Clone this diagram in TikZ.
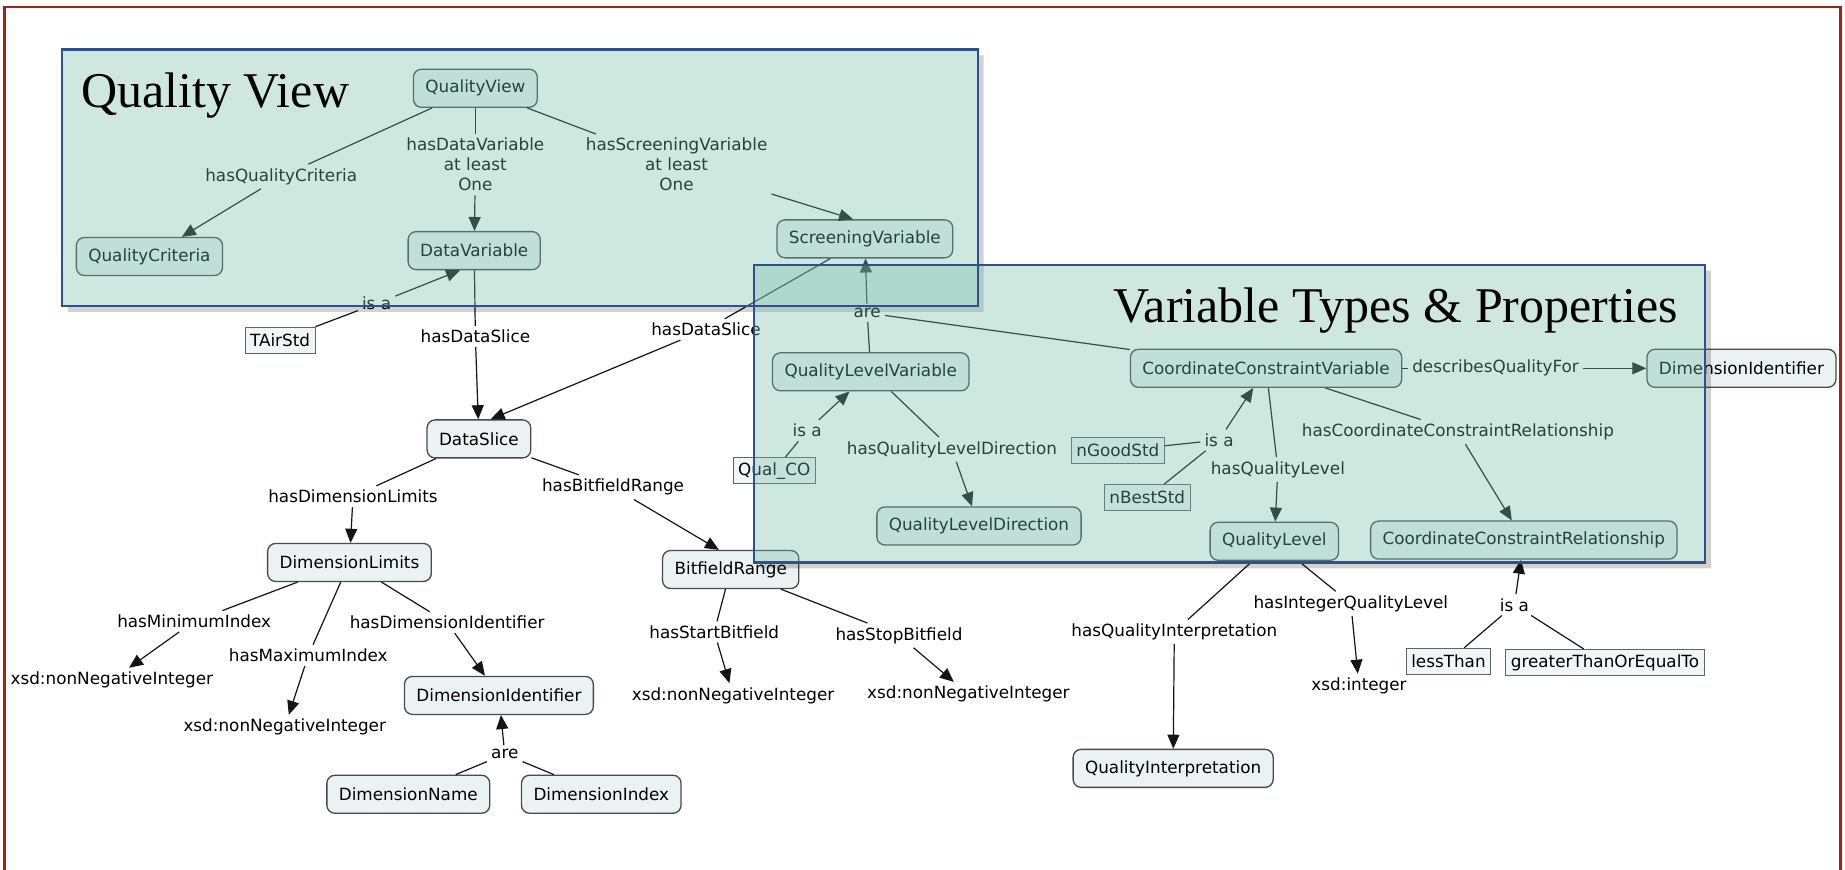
\documentclass[tikz,border=0pt]{standalone}
\usepackage{fontspec}
\setmainfont{DejaVu Sans}
\newfontfamily\ttlfont{Liberation Serif}
\usetikzlibrary{arrows.meta,calc}
\definecolor{redb}{RGB}{165,32,25}
\definecolor{boxblue}{RGB}{47,79,145}
\definecolor{tealov}{RGB}{115,189,166}
\definecolor{nodefill}{RGB}{234,242,244}
\definecolor{nodeline}{RGB}{70,75,75}
\definecolor{rectline}{RGB}{95,100,100}
\definecolor{edgec}{RGB}{20,20,20}
\begin{document}
\begin{tikzpicture}[x=1.1767pt,y=-1.1767pt,
  font=\fontsize{16.8}{20}\selectfont,
  cnode/.style={draw=nodeline, line width=1.3pt, fill=nodefill, rounded corners=8pt, minimum height=38pt, inner xsep=12pt, inner ysep=2pt},
  rnode/.style={draw=rectline, line width=1pt, fill=nodefill!70!white, minimum height=26pt, inner xsep=5pt, inner ysep=1pt},
  lab/.style={inner sep=4pt, align=center, text=black},
  tnode/.style={inner sep=4pt},
  ln/.style={draw=edgec, line width=1.2pt},
  ar/.style={ln, -{Triangle[length=14pt,width=12pt]}},
  ttl/.style={font=\ttlfont\fontsize{50}{60}\selectfont, inner sep=0pt, anchor=base west, text=black}
]
\useasboundingbox (0,0) rectangle (1568,739);
\clip (0,0) rectangle (1568,739);
\fill[white] (0,0) rectangle (1568,739);
\draw[redb, line width=2.5pt] (4,6) rectangle (1564,790);

% concept nodes
\node[cnode] (qv) at (404,75) {QualityView};
\node[cnode] (qc) at (127,218) {QualityCriteria};
\node[cnode] (dv) at (403,213) {DataVariable};
\node[cnode] (sv) at (735,203) {ScreeningVariable};
\node[rnode] (tair) at (238,289) {TAirStd};
\node[cnode] (ds) at (407,373) {DataSlice};
\node[cnode] (qlv) at (740,316) {QualityLevelVariable};
\node[cnode] (ccv) at (1076,313) {CoordinateConstraintVariable};
\node[cnode] (dir) at (1480,313) {DimensionIdentifier};
\node[rnode] (qco) at (658,400) {Qual\_CO};
\node[rnode] (ngood) at (950,383) {nGoodStd};
\node[rnode] (nbest) at (975,423) {nBestStd};
\node[cnode] (qld) at (832,447) {QualityLevelDirection};
\node[cnode] (ql) at (1083,460) {QualityLevel};
\node[cnode] (ccr) at (1295,459) {CoordinateConstraintRelationship};
\node[cnode] (dl) at (297,478) {DimensionLimits};
\node[cnode] (br) at (621,484) {BitfieldRange};
\node[cnode] (dib) at (424,591) {DimensionIdentifier};
\node[cnode] (dn) at (347,675) {DimensionName};
\node[cnode] (dx) at (511,675) {DimensionIndex};
\node[cnode] (qi) at (997,653) {QualityInterpretation};
\node[rnode] (lt) at (1231,562) {lessThan};
\node[rnode] (gte) at (1364,563) {greaterThanOrEqualTo};

% plain text values
\node[tnode] (x1) at (95,578) {xsd:nonNegativeInteger};
\node[tnode] (x2) at (242,618) {xsd:nonNegativeInteger};
\node[tnode] (x3) at (623,591) {xsd:nonNegativeInteger};
\node[tnode] (x4) at (823,590) {xsd:nonNegativeInteger};
\node[tnode] (xi) at (1155,583) {xsd:integer};

% link labels
\node[lab] (l1) at (239,150) {hasQualityCriteria};
\node[lab] (l2) at (404,140) {hasDataVariable\\at least\\One};
\node[lab] (l3) at (575,140) {hasScreeningVariable\\at least\\One};
\node[lab] (l4) at (320,258) {is a};
\node[lab] (l5) at (404,286) {hasDataSlice};
\node[lab] (l6) at (600,280) {hasDataSlice};
\node[lab] (l7) at (737,266) {are};
\node[lab] (l8) at (686,366) {is a};
\node[lab] (l9) at (809,382) {hasQualityLevelDirection};
\node[lab] (l10) at (1036,374) {is a};
\node[lab] (l11) at (1086,399) {hasQualityLevel};
\node[lab] (l12) at (1271,313) {describesQualityFor};
\node[lab] (l13) at (1239,367) {hasCoordinateConstraintRelationship};
\node[lab] (l14) at (300,422) {hasDimensionLimits};
\node[lab] (l15) at (521,414) {hasBitfieldRange};
\node[lab] (l16) at (165,528) {hasMinimumIndex};
\node[lab] (l17) at (262,557) {hasMaximumIndex};
\node[lab] (l18) at (380,529) {hasDimensionIdentifier};
\node[lab] (l19) at (429,641) {are};
\node[lab] (l20) at (607,537) {hasStartBitfield};
\node[lab] (l21) at (764,540) {hasStopBitfield};
\node[lab] (l22) at (998,537) {hasQualityInterpretation};
\node[lab] (l23) at (1148,513) {hasIntegerQualityLevel};
\node[lab] (l24) at (1287,514) {is a};

% connectors
\draw[ln] (qv) -- (l1); \draw[ar] (l1) -- (qc);
\draw[ln] (qv) -- (l2); \draw[ar] (l2) -- (dv);
\draw[ln] (qv) -- (l3); \draw[ar] (l3) -- ($(sv.north)+(-10,0)$);
\draw[ln] (tair) -- (l4); \draw[ar] (l4) -- ($(dv.south)+(-12,0)$);
\draw[ln] (dv) -- (l5); \draw[ar] (l5) -- (ds);
\draw[ln] (sv) -- (l6); \draw[ar] (l6) -- ($(ds.north)+(10,0)$);
\draw[ln] (qlv) -- (l7); \draw[ln] (ccv) -- (l7); \draw[ar] (l7) -- (sv);
\draw[ln] (qco) -- (l8); \draw[ar] (l8) -- (qlv);
\draw[ln] (qlv) -- (l9); \draw[ar] (l9) -- (qld);
\draw[ln] (ngood) -- (l10); \draw[ln] (nbest) -- (l10); \draw[ar] (l10) -- (ccv);
\draw[ln] (ccv) -- (l11); \draw[ar] (l11) -- (ql);
\draw[ln] (ccv) -- (l12); \draw[ar] (l12) -- (dir);
\draw[ln] (ccv) -- (l13); \draw[ar] (l13) -- (ccr);
\draw[ln] (ds) -- (l14); \draw[ar] (l14) -- (dl);
\draw[ln] (ds) -- (l15); \draw[ar] (l15) -- ($(br.north)+(-10,0)$);
\draw[ln] (dl) -- (l16); \draw[ar] (l16) -- (x1);
\draw[ln] (dl) -- (l17); \draw[ar] (l17) -- (x2);
\draw[ln] (dl) -- (l18); \draw[ar] (l18) -- (dib);
\draw[ln] (dn) -- (l19); \draw[ln] (dx) -- (l19); \draw[ar] (l19) -- (dib);
\draw[ln] (br) -- (l20); \draw[ar] (l20) -- (x3);
\draw[ln] (br) -- (l21); \draw[ar] (l21) -- (x4);
\draw[ln] (ql) -- (l22); \draw[ar] (l22) -- (qi);
\draw[ln] (ql) -- (l23); \draw[ar] (l23) -- (xi);
\draw[ln] (lt) -- (l24); \draw[ln] (gte) -- (l24); \draw[ar] (l24) -- (ccr);

% translucent group boxes
\fill[black, opacity=0.18] (831,47) -- (836,47) -- (836,265) -- (58,265) -- (58,260) -- (831,260) -- cycle;
\fill[black, opacity=0.18] (1449,230) -- (1454,230) -- (1454,483) -- (646,483) -- (646,478) -- (1449,478) -- cycle;
\fill[tealov, opacity=0.35] (53,42) rectangle (831,260);
\fill[tealov, opacity=0.35] (641,225) rectangle (1449,478);
\draw[boxblue, line width=2.2pt] (53,42) rectangle (831,260);
\draw[boxblue, line width=2.2pt] (641,225) rectangle (1449,478);
\node[ttl] (t1) at (69,91) {Quality View};
\node[ttl] (t2) at (946,274) {Variable Types \& Properties};
\end{tikzpicture}
\end{document}
